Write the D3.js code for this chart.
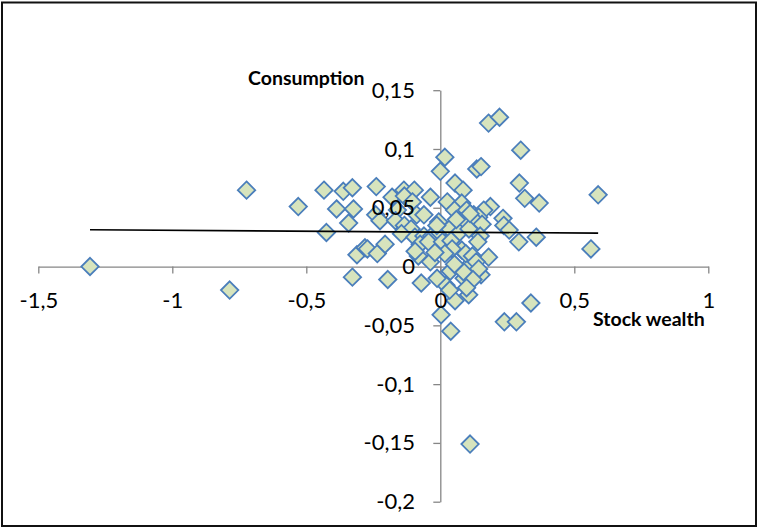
<!DOCTYPE html>
<html>
<head>
<meta charset="utf-8">
<script src="https://cdn.jsdelivr.net/npm/d3@7/dist/d3.min.js"></script>
<style>
  html, body { margin: 0; padding: 0; background: #ffffff; }
  svg { display: block; }
  text { font-family: Lato, "Open Sans", sans-serif; }
</style>
</head>
<body>
<svg id="chart" width="758" height="528"></svg>
<script>
// Change in stock wealth (x) against change in consumption (y)
const stockWealth = [
  -1.307, -0.786, -0.723, -0.530, -0.434, -0.425, -0.387, -0.362, -0.328, -0.324,
  -0.342, -0.311, -0.281, -0.272, -0.235, -0.206, -0.328, -0.196, -0.071, -0.239,
  -0.241, -0.225, -0.180, -0.136, -0.097, -0.134, -0.104, -0.037, -0.160, -0.088,
  -0.061, -0.167, -0.134, -0.109, -0.145, -0.095, -0.061, -0.032, -0.075, -0.044,
  -0.003, -0.006, 0.017, 0.000, 0.055, 0.085, 0.136, 0.152, 0.180, 0.221,
  0.300, 0.295, 0.315, 0.369, 0.589, 0.187, 0.234, 0.237, 0.257, 0.293,
  0.358, 0.562, 0.338, 0.239, 0.284, 0.039, 0.003, 0.055, 0.106, 0.111,
  0.152, 0.180, 0.107, 0.089, 0.037, 0.021, -0.012, 0.026, 0.080, 0.053,
  0.098, 0.125, 0.162, 0.143, 0.080, 0.134, 0.156, 0.035, 0.071, 0.107,
  0.149, 0.008, 0.040, 0.140, 0.080, 0.095, 0.044, 0.017, -0.037, -0.082,
  0.120, 0.134, 0.143, 0.053, 0.089, 0.122, 0.098, 0.035, -0.094, 0.111,
  -0.013, 0.060, -0.020
];
const consumption = [
  0.000, -0.020, 0.065, 0.051, 0.065, 0.029, 0.049, 0.064, 0.067, 0.049,
  0.037, 0.010, 0.016, 0.015, 0.011, 0.019, -0.009, -0.011, -0.014, 0.068,
  0.044, 0.039, 0.059, 0.065, 0.065, 0.060, 0.055, 0.059, 0.048, 0.044,
  0.044, 0.039, 0.035, 0.032, 0.028, 0.025, 0.026, 0.026, 0.019, 0.021,
  0.029, 0.038, 0.093, 0.081, 0.071, 0.065, 0.083, 0.085, 0.122, 0.127,
  0.099, 0.071, 0.058, 0.054, 0.061, 0.051, 0.041, 0.035, 0.031, 0.021,
  0.025, 0.015, -0.031, -0.047, -0.047, -0.055, -0.041, -0.029, -0.024, -0.151,
  -0.007, 0.008, 0.001, -0.010, -0.004, -0.016, -0.010, 0.055, 0.054, 0.048,
  0.048, 0.044, 0.048, 0.042, 0.038, 0.038, 0.036, 0.032, 0.029, 0.032,
  0.026, 0.021, 0.022, 0.021, 0.014, 0.011, 0.015, 0.011, 0.004, 0.009,
  0.009, 0.004, -0.002, 0.002, -0.005, -0.011, -0.018, -0.020, 0.013, 0.045,
  0.035, 0.040, 0.012
];

// Linear trend: consumption = intercept + slope * stock wealth
const trendIntercept = 0.0293;
const trendSlope = -0.00153;

const xTicks = [-1.5, -1, -0.5, 0, 0.5, 1];
const yTicks = [-0.2, -0.15, -0.1, -0.05, 0, 0.05, 0.1, 0.15];

const xTitle = "Stock wealth";
const yTitle = "Consumption";

const svg = d3.select("#chart");
const W = 758, H = 528;

svg.append("rect")
  .attr("width", W).attr("height", H).attr("fill", "#ffffff");

const x = d3.scaleLinear().domain([-1.5, 1]).range([38.3, 708.3]);
const y = d3.scaleLinear().domain([-0.2, 0.15]).range([501.7, 90.2]);

const fmt = d => String(d).replace(".", ",");
const axisColor = "#868686";

// Axis lines and tick marks (beneath the markers)
const gx = svg.append("g").attr("transform", `translate(0,${y(0)})`)
  .call(d3.axisBottom(x).tickValues(xTicks).tickSize(7).tickSizeOuter(0).tickFormat(""));
const gy = svg.append("g").attr("transform", `translate(${x(0)},0)`)
  .call(d3.axisLeft(y).tickValues(yTicks).tickSize(7).tickSizeOuter(0).tickFormat(""));
[gx, gy].forEach(g => {
  g.selectAll("path, line").attr("stroke", axisColor).attr("stroke-width", 1.3);
  g.selectAll("text").remove();
});

// Points
const points = stockWealth.map((v, i) => [v, consumption[i]]);
const r = 8.7;
svg.append("g").selectAll("path")
  .data(points)
  .join("path")
  .attr("transform", d => `translate(${x(d[0])},${y(d[1])})`)
  .attr("d", `M0,${-r}L${r},0L0,${r}L${-r},0Z`)
  .attr("fill", "#d7e4bd")
  .attr("stroke", "#4a7ebb")
  .attr("stroke-width", 1.8);

// Trend line across the range of the data
const xExt = d3.extent(stockWealth);
svg.append("path")
  .datum(xExt.map(v => [v, trendIntercept + trendSlope * v]))
  .attr("d", d3.line().x(d => x(d[0])).y(d => y(d[1])))
  .attr("stroke", "#000000")
  .attr("stroke-width", 1.6)
  .attr("fill", "none");

// Tick labels (drawn over the markers)
const lx = svg.append("g").attr("transform", `translate(0,${y(0)})`)
  .call(d3.axisBottom(x).tickValues(xTicks).tickSize(7).tickPadding(18.7).tickFormat(fmt));
const ly = svg.append("g").attr("transform", `translate(${x(0)},0)`)
  .call(d3.axisLeft(y).tickValues(yTicks).tickSize(7).tickPadding(18.3).tickFormat(fmt));
[lx, ly].forEach(g => {
  g.select(".domain").remove();
  g.selectAll("line").remove();
  g.selectAll("text")
    .attr("fill", "#000000")
    .style("font-family", "Lato, sans-serif")
    .style("font-size", "22px");
});

// Axis titles
svg.append("text")
  .attr("x", 248).attr("y", 84.5)
  .style("font-size", "19.5px").style("font-weight", "bold")
  .attr("fill", "#000000")
  .text(yTitle);
svg.append("text")
  .attr("x", 593).attr("y", 326)
  .style("font-size", "19.5px").style("font-weight", "bold")
  .attr("fill", "#000000")
  .text(xTitle);

// Chart border
svg.append("rect")
  .attr("x", 2).attr("y", 2.5).attr("width", 754).attr("height", 523.5)
  .attr("fill", "none").attr("stroke", "#111111").attr("stroke-width", 2);
</script>
</body>
</html>
